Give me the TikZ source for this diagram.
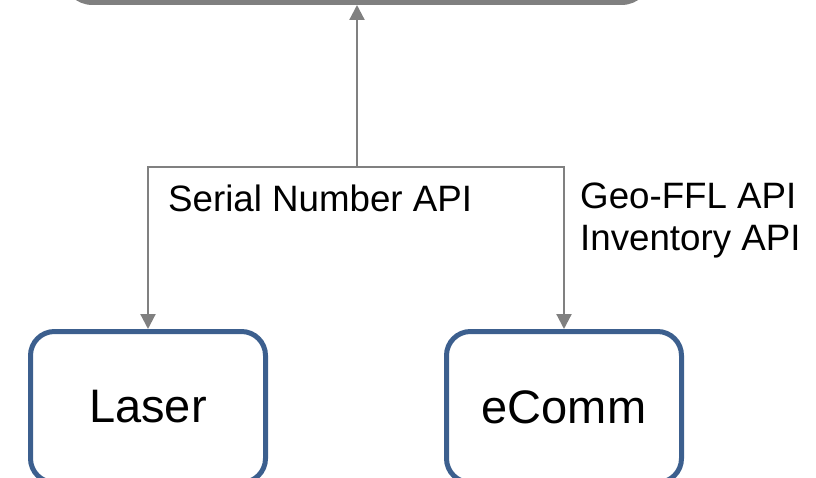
\documentclass[tikz,border=0pt]{standalone}
\usepackage{fontspec}
\setmainfont{Liberation Sans}
\usetikzlibrary{arrows.meta}
\definecolor{conngray}{HTML}{808080}
\definecolor{boxblue}{HTML}{3C5F8E}
\begin{document}
\begin{tikzpicture}[x=1pt,y=-1pt,
  sysbox/.style={draw=boxblue, line width=5pt, rounded corners=24pt, minimum width=235pt, minimum height=151pt, inner sep=0pt, font=\fontsize{47}{56}\selectfont},
  topbox/.style={draw=conngray, line width=5pt, rounded corners=28pt, minimum width=585pt, minimum height=100pt, inner sep=0pt},
  conn/.style={draw=conngray, line width=2.2pt, -{Triangle[width=15pt,length=15pt]}},
  apilabel/.style={inner sep=0pt, font=\fontsize{36.7}{42}\selectfont}]
\useasboundingbox (0,0) rectangle (816,478);
\clip (0,0) rectangle (816,478);
\node[topbox] (top) at (357,-47.5) {};
\node[sysbox] (laser) at (148,407) {Laser};
\node[sysbox] (ecomm) at (564,407) {eComm};
\coordinate (hub) at (357,167);
\draw[conn] (hub) -- (top.south);
\draw[conn] (hub) -| (laser.north);
\draw[conn] (hub) -| (ecomm.north);
\node[apilabel, anchor=base west] (serial) at (168,212) {Serial Number API};
\node[apilabel, anchor=base west] (geo) at (580,209) {Geo-FFL API};
\node[apilabel, anchor=base west] (inv) at (580,251) {Inventory API};
\end{tikzpicture}
\end{document}
